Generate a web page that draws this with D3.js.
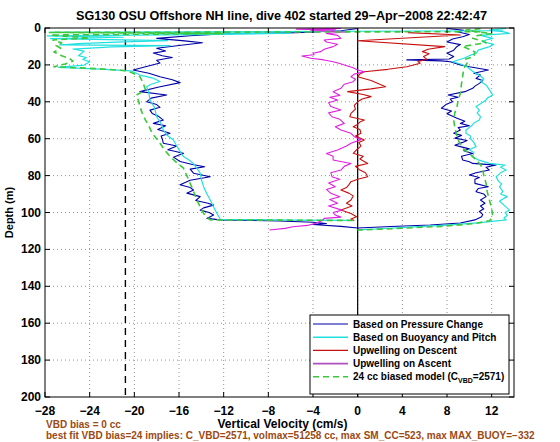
<!DOCTYPE html>
<html><head><meta charset="utf-8">
<script src="https://cdn.jsdelivr.net/npm/d3@7"></script>
<style>
body{margin:0;background:#fff;}
svg{display:block;}
text{font-family:"Liberation Sans",Arial,Helvetica,sans-serif;font-weight:bold;fill:#000;}
</style>
</head><body>
<svg id="chart" width="560" height="442"></svg>
<script>
const titleText = "SG130 OSU Offshore NH line, dive 402 started 29\u2212Apr\u22122008 22:42:47";
const xLabel = "Vertical Velocity (cm/s)";
const yLabel = "Depth (m)";
const xTicks = [-28,-24,-20,-16,-12,-8,-4,0,4,8,12];
const yTicks = [0,20,40,60,80,100,120,140,160,180,200];
const noteLines = ["VBD bias = 0 cc",
  "best fit VBD bias=24 implies: C_VBD=2571, volmax=51258 cc, max SM_CC=523, max MAX_BUOY=\u2212332"];
const biasLineVel = -20.8;
const legendNames = ["Based on Pressure Change","Based on Buoyancy and Pitch","Upwelling on Descent","Upwelling on Ascent","24 cc biased model (C"];

// [depth m, vertical velocity cm/s]
const pressureDown = [[0.3,0],[1.5,-1.5],[2.5,-5.5],[3.0,-11.4],[4.2,-15],[5.6,-18],[7,-15.5],[8,-13.9],[9.5,-16],[11,-18],[12.5,-17.2],[13.6,-18.3],[15,-17.5],[16,-16.6],[17.5,-18],[19,-17.7],[21,-19],[22.8,-20.1],[24.5,-18.7],[26.4,-17.7],[28,-16.6],[29.6,-15.9],[32,-17.8],[34.5,-19.5],[36.3,-17.1],[38,-18.5],[40,-18.9],[41.5,-18],[43,-17.7],[44.5,-18.6],[46.3,-18.4],[48,-17.8],[49.9,-17.4],[51.7,-18.3],[53,-17.2],[55,-17.9],[57,-16.8],[58.5,-17.6],[60,-17.5],[62.5,-17.4],[64,-16.2],[66,-17],[67.9,-15.6],[70,-16.5],[72.4,-15.9],[74,-14.8],[75.2,-13.7],[76.5,-15],[78.7,-14.7],[80.6,-13.2],[82.5,-15],[85,-15.9],[86.5,-15],[87.8,-14.7],[89.5,-15.3],[91.4,-14.1],[93.5,-14.5],[95,-13.4],[96,-12.9],[97.5,-13.8],[98.7,-14.1],[100,-13.3],[101.4,-12.9],[103.2,-13.5],[104,-12.3],[104.6,-7],[105.3,-4.0],[106,-2.8],[106.5,-4],[107.5,-1.5],[108.4,0]];
const pressureUp = [[0.2,8],[1.2,9.5],[2,8.9],[3.5,10],[4.7,9.4],[6,8.5],[7.6,8.0],[9,9.2],[10,8.9],[12,8.6],[13.7,8.0],[15.5,8.6],[16.8,8.2],[17.3,4.4],[17.8,7.5],[18.3,8.3],[20,9.2],[21,10],[22.8,11.7],[24.5,10.4],[25.5,11],[27.3,10.6],[28.5,11.2],[30,10.9],[31.5,10.5],[32.7,10.3],[34.5,9.6],[36.3,8.1],[37.5,9],[38.5,8.3],[40,8.5],[41.5,7.9],[43.5,7.5],[45,8.4],[46.5,8.0],[48.9,8.9],[50.5,9.6],[51.7,9.2],[53,10],[54,9.0],[55.3,9.2],[57,8.6],[58.2,9.3],[59.7,8.7],[61,9.8],[62,9.4],[63.5,8.7],[64.3,9.2],[65.5,10],[66.5,9.5],[68,10.3],[69.5,9.3],[71.5,9.4],[72.5,10.0],[73.4,10.3],[74.3,12.4],[75.5,11.5],[77,11.8],[78.5,10.6],[79.7,10.0],[81,10.9],[82,10.5],[84.2,10.5],[86,11.7],[87,10.8],[88.7,10.6],[90,11.3],[91.4,11.5],[93.2,11.0],[95,11.4],[96.5,11.0],[98,11.3],[99.5,10.9],[101,11.2],[102.3,11.1],[104,10.5],[105.7,9.2],[106.8,6.5],[107.6,3],[108.4,0]];
const buoyDown = [[1.5,13],[2.3,-27.6],[2.8,-6],[3.5,-12],[4.3,-27.8],[5.0,-21],[5.8,-27.5],[6.8,-17],[7.5,-21],[8.5,-25],[9.2,-26.7],[9.5,-16.8],[10.2,-22],[11.4,-25.5],[12.5,-24.5],[13.6,-24.7],[15,-25],[16,-24.3],[17,-24.6],[18.3,-24],[20.1,-24.5],[21.3,-26.8],[22.3,-23],[23.2,-20.3],[24.5,-19.8],[25.5,-19.5],[27,-18.4],[29,-17.7],[30.5,-18.5],[31.8,-18.9],[35,-18.7],[39,-18.6],[43,-18.2],[48.1,-18],[52,-17.6],[55.3,-17.4],[58,-17.1],[60.7,-16.5],[65,-16.1],[69.7,-15.6],[71.5,-15.1],[73.5,-14.7],[76,-14.4],[78.7,-14.1],[82,-14.0],[86,-13.8],[90,-13.5],[93.2,-13.2],[97,-12.9],[100.5,-12.6],[103.7,-12.3],[104.1,-6],[104.3,-0.5]];
const buoyUp = [[0.2,13.3],[1.1,11.8],[2.0,13.0],[2.9,13.6],[4,11],[5.6,12.1],[6.5,11.5],[7.5,11.2],[8.8,12.2],[10.1,11.8],[12,10.8],[13.7,10.6],[15,10.0],[16.4,9.5],[18.3,8.5],[19.5,9.2],[21,9.8],[23,10.2],[24.6,10.6],[26,11],[27.5,11.3],[29,11.0],[30.9,11.5],[33.5,11.8],[36.3,12.1],[38,11.6],[39,11.5],[41,11],[42.6,10.6],[44.5,10.9],[46,10.7],[48,11.0],[49.9,10.9],[51.5,10.4],[53,10.2],[55.3,9.7],[57.1,9.7],[58.5,10.1],[60,10.1],[62,10.4],[64.3,10.6],[66,10.0],[67.5,10.4],[69.7,10.3],[71.5,10.8],[73.4,11.8],[74.3,13.2],[75.5,12.8],[77,13.3],[78.5,12.8],[80.6,12.4],[83,12.6],[84.5,12.9],[86,12.7],[88.5,13.0],[90,12.8],[91.4,13.4],[93.8,12.7],[96,13.1],[98.7,13.6],[100,13.2],[101.5,13.4],[103,13.1],[104,13.3],[105.5,11],[106.8,8],[107.8,5],[108.8,2],[109.4,0]];
const upwellDown = [[2.5,4.5],[3.8,9.2],[6.9,0],[10.1,7.8],[11.5,6.3],[12.8,5.8],[14,6.4],[15.5,5.9],[17,6.2],[18.2,5.4],[19.1,5.6],[21,4.4],[22.4,2.7],[23.7,0.6],[25,0.2],[26.4,0],[28.5,1.2],[31.8,2.5],[33,1.2],[34.5,-0.9],[36,0.5],[37.2,1.2],[38.5,0.4],[40,0],[42,-0.3],[44,-0.2],[46.3,-0.6],[48.1,-0.7],[49.9,0.6],[51,0.2],[52.6,-0.1],[53.5,-0.4],[55,0.2],[57.1,0.3],[58.5,-0.2],[60.7,0.6],[62,0.1],[64,0.3],[66,-0.1],[67.9,-0.4],[69.5,0.5],[71,0.2],[73.4,0.9],[75,-0.2],[77,0.2],[78.5,0.7],[80.6,0.9],[82,0.0],[83.3,-0.6],[85,-0.8],[86.5,-1.0],[87.8,-1.5],[89.5,-0.8],[91,-0.4],[93.2,-0.6],[95,-1.0],[96.5,-0.5],[98.7,-1.5],[100.5,-0.6],[102.3,-0.1],[103.5,-0.6],[104.3,-0.3]];
const upwellUp = [[0.2,-1.5],[0.6,-5.5],[1.0,-2],[1.5,-4.2],[2.2,-1.0],[2.9,-2.8],[4.0,-1.8],[5.6,-1.5],[6.5,-3.0],[7.6,-2.8],[8.8,-1.8],[10.1,-2.2],[11.5,-3.0],[12.8,-3.3],[13.7,-4.0],[14.5,-3.9],[15.2,-5.0],[16.4,-4.2],[17.3,-3.0],[18.3,-2.2],[19.2,-1.6],[20,-1.2],[21.5,-0.4],[22.8,0],[23.7,0.6],[25,-0.3],[26.4,-0.6],[27.8,-0.2],[29.1,-0.4],[30.5,-1.2],[32.7,-1.5],[34.5,-2.2],[36.5,-1.6],[37.5,-2.5],[39,-1.8],[40.5,-2.6],[42.6,-2.4],[44.4,-1.5],[46,-2.6],[48.1,-2.3],[49.5,-1.6],[51.7,-1.2],[53.5,-2.0],[55.3,-1.5],[57.1,-0.6],[58.9,-0.3],[60.5,0.3],[62.5,-0.6],[64,-1.0],[66.1,-1.8],[68,-2.8],[69.5,-2.2],[71.5,-2.2],[73.4,-0.6],[75,-1.2],[77,-1.5],[78.5,-2.4],[80.6,-2.3],[82,-1.6],[84,-2.6],[86,-2.0],[87.5,-2.8],[89.6,-2.4],[91.5,-1.6],[93,-2.5],[95,-1.8],[96.5,-2.6],[98.7,-1.4],[100,-2.2],[101.4,-2.0],[102.5,-1.5],[103.2,-3.0],[104.5,-3.2],[105.9,-3.8],[107,-4.5],[107.7,-5.8],[108.6,-6.5],[109.5,-7.9]];
const modelDown = [[2.0,11],[2.4,-27.6],[3.0,-12],[3.8,-27.5],[5.5,-24],[6.5,-27.3],[8,-26.5],[9.5,-27],[11,-26.6],[13,-27.2],[15,-26.5],[16.5,-25.8],[18,-25.5],[19.5,-26.2],[21,-27.2],[22,-23.5],[23,-21],[24,-20.3],[26.4,-19.5],[30,-19.2],[33.6,-19],[36.3,-19.8],[40,-19.6],[42.6,-19.5],[46,-19.3],[49.9,-19],[53,-18.7],[57.1,-18.4],[60,-18.0],[62.5,-17.7],[66,-17.3],[69.7,-16.8],[73,-16.2],[76,-15.6],[80,-15.3],[84.2,-15.0],[88.5,-14.7],[93.2,-14.4],[97,-14.1],[100.5,-13.8],[103,-13.4],[104,-13.2],[104.3,-0.3]];
const modelUp = [[0.4,11],[1.1,9.7],[2.2,10.8],[3.0,12],[4.3,10.5],[5.6,10.3],[7,11.2],[8,11.5],[10,9.4],[11.5,10],[13,10.5],[15.5,10.4],[17,9.6],[19,9.8],[22,9.5],[26.4,9.4],[30,9.3],[35.4,9.2],[39,9.0],[42.6,8.9],[46,8.7],[49.9,8.6],[54,8.7],[58.9,8.9],[62,9.1],[65.2,9.4],[68,10.0],[71.5,10.6],[74,11.0],[77,11.2],[80,11.3],[84.2,11.5],[88.7,11.6],[93.2,11.8],[98,12.0],[102.3,12.1],[104.5,11.8],[106,10.5],[107.5,7.5],[108.7,3.5],[109.5,0]];

const colPressure = "#0000a8", colBuoy = "#22e0e0", colDown = "#c81010", colUp = "#e020e0", colModel = "#3cc83c";
const series = [
  {data: pressureDown, color: colPressure, w: 1.1},
  {data: pressureUp, color: colPressure, w: 1.1},
  {data: buoyDown, color: colBuoy, w: 1.2},
  {data: buoyUp, color: colBuoy, w: 1.2},
  {data: upwellDown, color: colDown, w: 1.1},
  {data: upwellUp, color: colUp, w: 1.1},
  {data: modelDown, color: colModel, w: 1.6, dash: "6,4"},
  {data: modelUp, color: colModel, w: 1.6, dash: "6,4"}
];
const legendStyles = [
  {color: colPressure, w: 1.2},
  {color: colBuoy, w: 1.6},
  {color: colDown, w: 1.2},
  {color: "#b050c0", w: 1.6},
  {color: colModel, w: 1.6, dash: "6,4"}
];

const L = 45, R = 514, T = 28, B = 397;
const x = d3.scaleLinear().domain([-28, 14]).range([L, R]);
const y = d3.scaleLinear().domain([0, 200]).range([T, B]);
const svg = d3.select("#chart");
const fmt = v => String(v).replace("-", "\u2212");

svg.append("defs").append("clipPath").attr("id","clip")
  .append("rect").attr("x",L).attr("y",T).attr("width",R-L).attr("height",B-T);

// grid
const grid = svg.append("g");
grid.selectAll(".gx").data(xTicks.filter(t => t > -28)).enter().append("line")
  .attr("x1", d => x(d)).attr("x2", d => x(d)).attr("y1", T).attr("y2", B)
  .attr("stroke","#777").attr("stroke-width",0.8).attr("stroke-dasharray","1,3");
grid.selectAll(".gy").data(yTicks.filter(t => t > 0 && t < 200)).enter().append("line")
  .attr("y1", d => y(d)).attr("y2", d => y(d)).attr("x1", L).attr("x2", R)
  .attr("stroke","#777").attr("stroke-width",0.8).attr("stroke-dasharray","1,3");

const plot = svg.append("g").attr("clip-path","url(#clip)");
plot.append("line").attr("x1", x(0)).attr("x2", x(0)).attr("y1", T).attr("y2", B)
  .attr("stroke","#000").attr("stroke-width",1.2);
plot.append("line").attr("x1", x(biasLineVel)).attr("x2", x(biasLineVel)).attr("y1", T).attr("y2", B)
  .attr("stroke","#000").attr("stroke-width",1.4).attr("stroke-dasharray","7,5");

const line = d3.line().x(d => x(d[1])).y(d => y(d[0]));
series.forEach(s => {
  plot.append("path").attr("d", line(s.data)).attr("fill","none")
    .attr("stroke", s.color).attr("stroke-width", s.w)
    .attr("stroke-dasharray", s.dash || null).attr("stroke-linejoin","round");
});

// axes box and ticks
const ax = svg.append("g");
ax.append("rect").attr("x",L).attr("y",T).attr("width",R-L).attr("height",B-T)
  .attr("fill","none").attr("stroke","#000").attr("stroke-width",1);
xTicks.forEach(t => {
  ax.append("line").attr("x1",x(t)).attr("x2",x(t)).attr("y1",B).attr("y2",B-5).attr("stroke","#000");
  ax.append("line").attr("x1",x(t)).attr("x2",x(t)).attr("y1",T).attr("y2",T+5).attr("stroke","#000");
  ax.append("text").attr("x",x(t)).attr("y",B+18).attr("text-anchor","middle")
    .attr("font-size",12).text(fmt(t));
});
yTicks.forEach(t => {
  ax.append("line").attr("y1",y(t)).attr("y2",y(t)).attr("x1",L).attr("x2",L+5).attr("stroke","#000");
  ax.append("line").attr("y1",y(t)).attr("y2",y(t)).attr("x1",R).attr("x2",R-5).attr("stroke","#000");
  ax.append("text").attr("x",L-4).attr("y",y(t)+4).attr("text-anchor","end")
    .attr("font-size",12).text(fmt(t));
});

svg.append("text").attr("x",(L+R)/2+2).attr("y",20).attr("text-anchor","middle")
  .attr("font-size",12.6).text(titleText);
svg.append("text").attr("x",(L+R)/2+3).attr("y",427.5).attr("text-anchor","middle")
  .attr("font-size",12).text(xLabel);
svg.append("text").attr("transform",`translate(13,${(T+B)/2}) rotate(-90)`)
  .attr("text-anchor","middle").attr("font-size",11).text(yLabel);

svg.append("text").attr("x",46).attr("y",428).attr("font-size",10)
  .style("fill","#9a4a14").text(noteLines[0]);
svg.append("text").attr("x",46).attr("y",439).attr("font-size",10)
  .style("fill","#9a4a14").text(noteLines[1]);

// legend
const lg = svg.append("g");
lg.append("rect").attr("x",310).attr("y",315).attr("width",199).attr("height",79)
  .attr("fill","#fff").attr("stroke","#000").attr("stroke-width",1);
legendNames.forEach((n, i) => {
  const cy = 324 + i * 13.2;
  const st = legendStyles[i];
  lg.append("line").attr("x1",313).attr("x2",348).attr("y1",cy).attr("y2",cy)
    .attr("stroke",st.color).attr("stroke-width",st.w).attr("stroke-dasharray",st.dash || null);
  const t = lg.append("text").attr("x",353).attr("y",cy+3.6).attr("font-size",10).text(n);
  if (i === 4) {
    t.append("tspan").attr("font-size",7).attr("dy",3).text("VBD");
    t.append("tspan").attr("dy",-3).text("=2571)");
  }
});
</script>
</body></html>
